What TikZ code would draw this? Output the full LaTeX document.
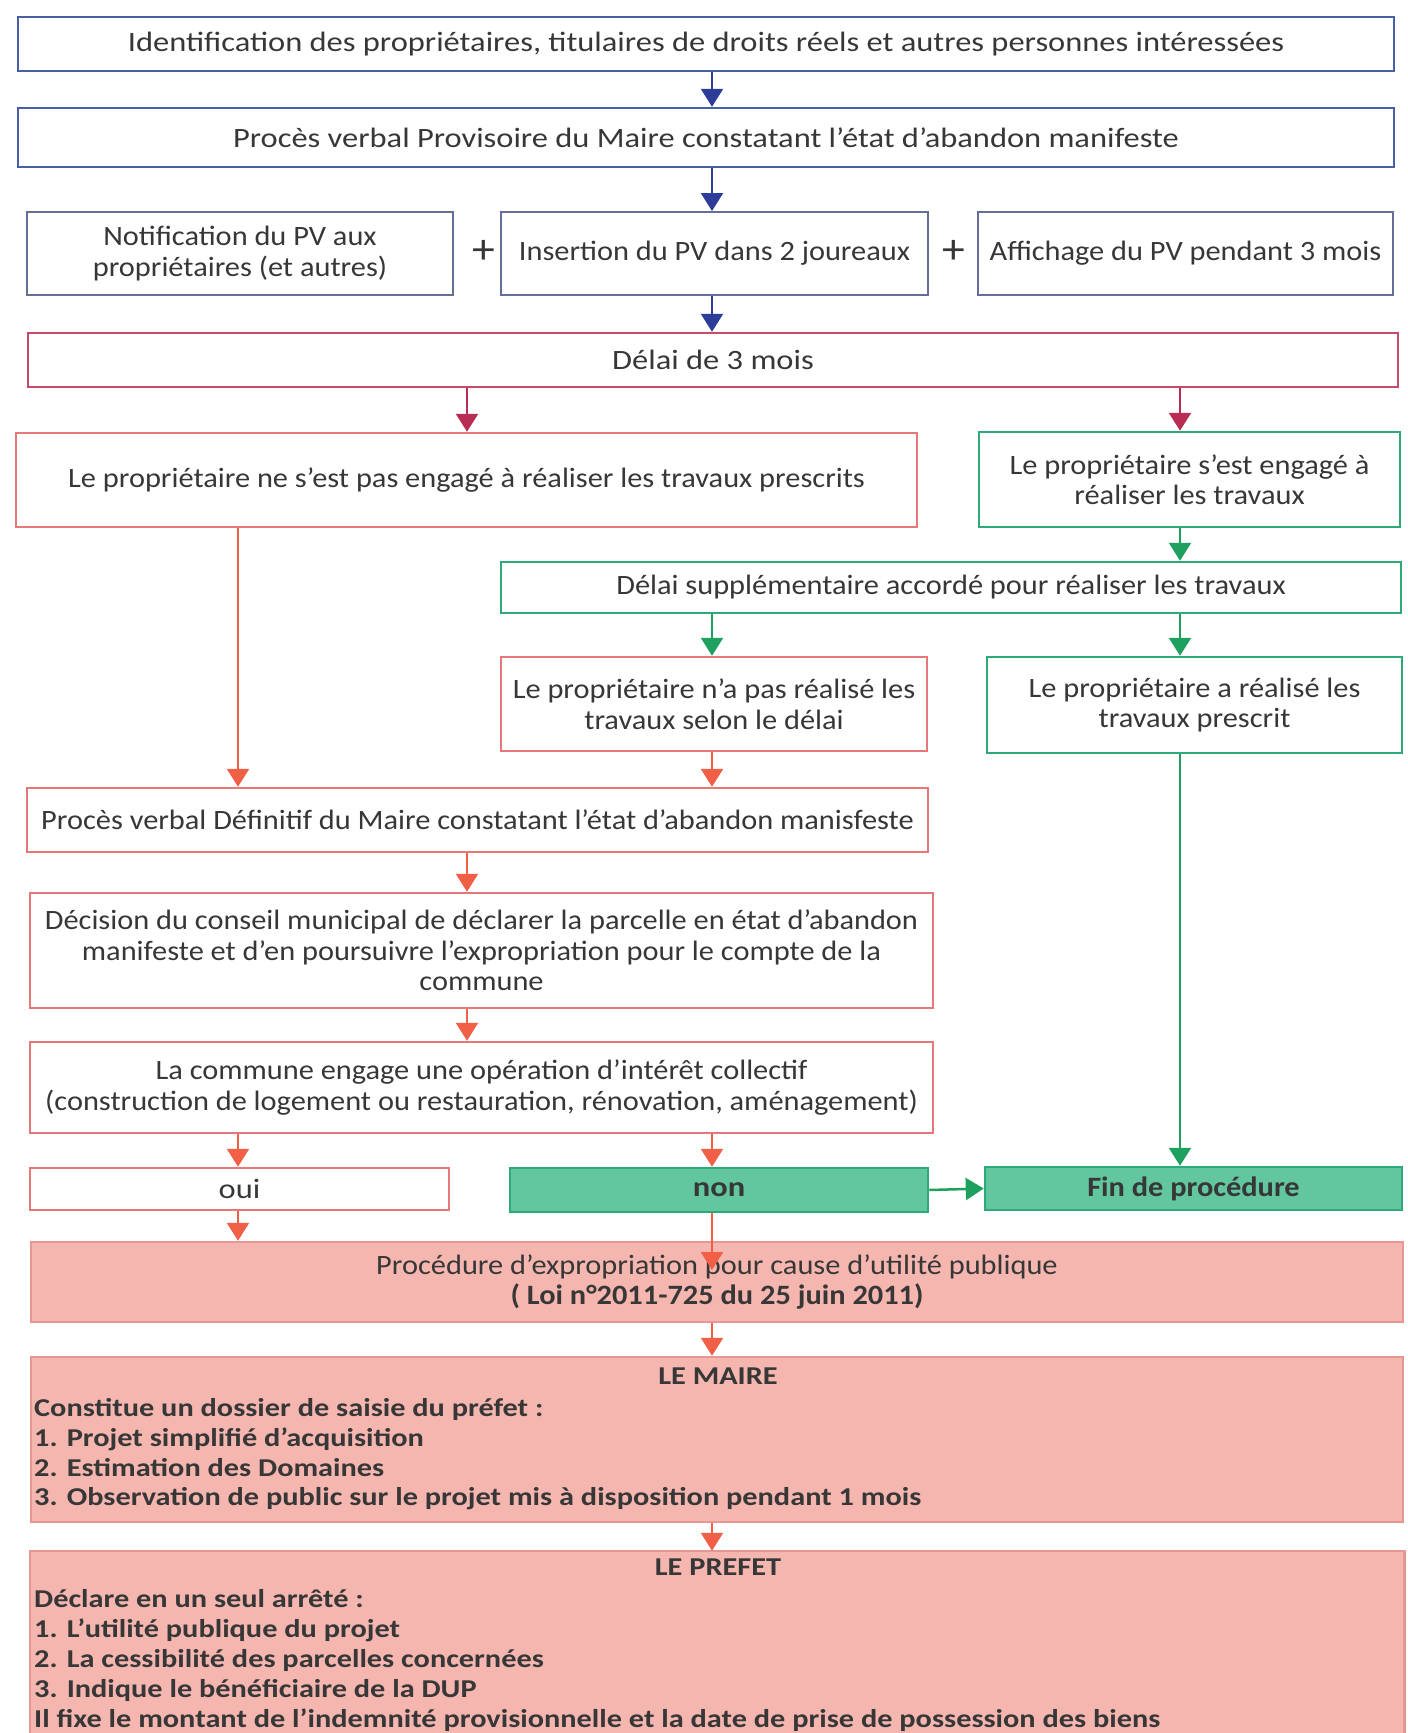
\documentclass[tikz,border=0pt]{standalone}
\usepackage{fontspec}
\setmainfont{Carlito}[FakeStretch=1.085]
\newfontfamily\wideA{Carlito}[FakeStretch=1.16]
\newfontfamily\wideP{Carlito}[FakeStretch=1.18]
\usetikzlibrary{arrows.meta,calc}
\definecolor{textc}{RGB}{55,55,55}
\definecolor{blueB}{RGB}{70,95,165}
\definecolor{rowB}{RGB}{100,110,150}
\definecolor{blueA}{RGB}{45,60,150}
\definecolor{crimB}{RGB}{200,75,105}
\definecolor{crimA}{RGB}{185,45,85}
\definecolor{redB}{RGB}{230,120,120}
\definecolor{redA}{RGB}{240,95,70}
\definecolor{greenB}{RGB}{45,170,120}
\definecolor{greenA}{RGB}{30,160,95}
\definecolor{greenF}{RGB}{98,198,158}
\definecolor{pinkF}{RGB}{245,182,176}
\definecolor{pinkB}{RGB}{232,150,145}
\begin{document}
\begin{tikzpicture}[x=1pt,y=-1pt,
  box/.style={rectangle,inner sep=2pt,align=center,text=textc,
    font=\fontsize{28}{30.5}\selectfont,line width=2.5pt},
  bbox/.style={box,draw=blueB,font=\wideA\fontsize{28}{30.5}\selectfont},
  rbox/.style={box,draw=rowB,line width=2pt},
  cbox/.style={box,draw=crimB,font=\wideA\fontsize{28}{30.5}\selectfont},
  lbox/.style={box,draw=redB},
  gbox/.style={box,draw=greenB},
  gfbox/.style={box,draw=greenB,fill=greenF,font=\wideA\bfseries\fontsize{28}{30}\selectfont},
  pbox/.style={box,draw=pinkB,fill=pinkF},
  pline/.style={anchor=west,inner sep=0pt,text=textc,
    font=\wideP\bfseries\fontsize{25.7}{29}\selectfont,execute at begin node=\strut},
  ptitle/.style={inner sep=0pt,text=textc,font=\wideP\bfseries\fontsize{25.7}{29}\selectfont},
  arr/.style={line width=2.5pt,-{Triangle[width=22pt,length=18pt]}},
  barr/.style={arr,draw=blueA,color=blueA},
  carr/.style={arr,draw=crimA,color=crimA},
  rarr/.style={arr,draw=redA,color=redA},
  garr/.style={arr,draw=greenA,color=greenA},
  plus/.style={inner sep=0pt,text=textc,font=\fontsize{42}{42}\selectfont}
]
\path[fill=white] (0,0) rectangle (1408,1733);
\useasboundingbox (0,0) rectangle (1408,1733);
% columns
\coordinate (cM) at (712,0);
\coordinate (cL) at (238,0);
\coordinate (cC) at (467,0);
\coordinate (cR) at (1180,0);

\node[bbox,minimum width=1376pt,minimum height=54pt] (n1) at (706,44)
  {Identification des propriétaires, titulaires de droits réels et autres personnes intéressées};
\node[bbox,minimum width=1376pt,minimum height=59pt] (n2) at (706,137.5)
  {Procès verbal Provisoire du Maire constatant l’état d’abandon manifeste};
\node[rbox,minimum width=426pt,minimum height=83pt] (n3a) at (240,253.5)
  {Notification du PV aux\\propriétaires (et autres)};
\node[plus] (plus1) at (484,252) {+};
\node[rbox,minimum width=427pt,minimum height=83pt] (n3b) at (714.5,253.5)
  {Insertion du PV dans 2 joureaux};
\node[plus] (plus2) at (954,252) {+};
\node[rbox,minimum width=415pt,minimum height=83pt] (n3c) at (1185.5,253.5)
  {Affichage du PV pendant 3 mois};
\node[cbox,minimum width=1370pt,minimum height=54pt] (n4) at (713,360)
  {Délai de 3 mois};
\node[lbox,minimum width=901pt,minimum height=94pt] (n5a) at (466.5,480)
  {Le propriétaire ne s’est pas engagé à réaliser les travaux prescrits};
\node[gbox,minimum width=421pt,minimum height=95pt] (n5b) at (1189.5,479.5)
  {Le propriétaire s’est engagé à\\réaliser les travaux};
\node[gbox,minimum width=900pt,minimum height=51pt] (n6) at (951,587.5)
  {Délai supplémentaire accordé pour réaliser les travaux};
\node[lbox,minimum width=426pt,minimum height=94pt] (n7a) at (714,704)
  {Le propriétaire n’a pas réalisé les\\travaux selon le délai};
\node[gbox,minimum width=415pt,minimum height=96pt] (n7b) at (1194.5,705)
  {Le propriétaire a réalisé les\\travaux prescrit};
\node[lbox,minimum width=901pt,minimum height=64pt] (n8) at (477.5,820)
  {Procès verbal Définitif du Maire constatant l’état d’abandon manisfeste};
\node[lbox,minimum width=903pt,minimum height=115pt] (n9) at (481.5,950.5)
  {Décision du conseil municipal de déclarer la parcelle en état d’abandon\\manifeste et d’en poursuivre l’expropriation pour le compte de la\\commune};
\node[lbox,minimum width=903pt,minimum height=91pt] (n10) at (481.5,1087.5)
  {La commune engage une opération d’intérêt collectif\\(construction de logement ou restauration, rénovation, aménagement)};
\node[lbox,minimum width=419pt,minimum height=42pt,font=\wideA\fontsize{28}{30}\selectfont] (noui) at (239.5,1189) {oui};
\node[gfbox,minimum width=418pt,minimum height=44pt] (nnon) at (719,1190) {non};
\node[gfbox,minimum width=417pt,minimum height=43pt,font=\bfseries\fontsize{28}{30}\selectfont] (nfin) at (1193.5,1188.5) {Fin de procédure};

\node[pbox,minimum width=1372pt,minimum height=80pt] (p1) at (717,1282)
  {Procédure d’expropriation pour cause d’utilité publique\\
   \textbf{( Loi n°2011-725 du 25 juin 2011)}};
\node[pbox,minimum width=1372pt,minimum height=165pt] (p2) at (717,1439.5) {};
\node[ptitle] (p2t) at (718,1376) {LE MAIRE};
\node[pline] (p2a) at (34,1411) {Constitue un dossier de saisie du préfet :};
\node[pline] (p2b) at (34,1441) {1. Projet simplifié d’acquisition};
\node[pline] (p2c) at (34,1470.5) {2. Estimation des Domaines};
\node[pline] (p2d) at (34,1500) {3. Observation de public sur le projet mis à disposition pendant 1 mois};

\node[box,fill=pinkF,minimum width=1372pt,minimum height=190pt] (p3) at (717,1647) {};
\draw[pinkB,line width=2.5pt] (p3.south west) -- (p3.north west) -- (p3.north east) -- (p3.south east);
\node[ptitle] (p3t) at (718,1567) {LE PREFET};
\node[pline] (p3a) at (34,1601.5) {Déclare en un seul arrêté :};
\node[pline] (p3b) at (34,1631.5) {1. L’utilité publique du projet};
\node[pline] (p3c) at (34,1661.5) {2. La cessibilité des parcelles concernées};
\node[pline] (p3d) at (34,1691.5) {3. Indique le bénéficiaire de la DUP};
\node[pline] (p3e) at (34,1721.5) {Il fixe le montant de l’indemnité provisionnelle et la date de prise de possession des biens};

% blue arrows
\draw[barr] (n1.south -| cM) -- (n2.north -| cM);
\draw[barr] (n2.south -| cM) -- (n3b.north -| cM);
\draw[barr] (n3b.south -| cM) -- (n4.north -| cM);
% crimson
\draw[carr] (n4.south -| cC) -- (n5a.north -| cC);
\draw[carr] (n4.south -| cR) -- (n5b.north -| cR);
% green
\draw[garr] (n5b.south -| cR) -- (n6.north -| cR);
\draw[garr] (n6.south -| cM) -- (n7a.north -| cM);
\draw[garr] (n6.south -| cR) -- (n7b.north -| cR);
\draw[garr] (n7b.south -| cR) -- (nfin.north -| cR);
\draw[garr] (nnon.east) -- (nfin.west);
% red
\draw[rarr] (n5a.south -| cL) -- (n8.north -| cL);
\draw[rarr] (n7a.south -| cM) -- (n8.north -| cM);
\draw[rarr] (n8.south -| cC) -- (n9.north -| cC);
\draw[rarr] (n9.south -| cC) -- (n10.north -| cC);
\draw[rarr] (n10.south -| cL) -- (noui.north -| cL);
\draw[rarr] (n10.south -| cM) -- (nnon.north -| cM);
\draw[rarr] (noui.south -| cL) -- (p1.north -| cL);
\draw[rarr] (nnon.south -| cM) -- ($(p1.center -| cM)+(0,-12)$);
\draw[rarr] (p1.south -| cM) -- (p2.north -| cM);
\draw[rarr] (p2.south -| cM) -- (p3.north -| cM);
\end{tikzpicture}
\end{document}
